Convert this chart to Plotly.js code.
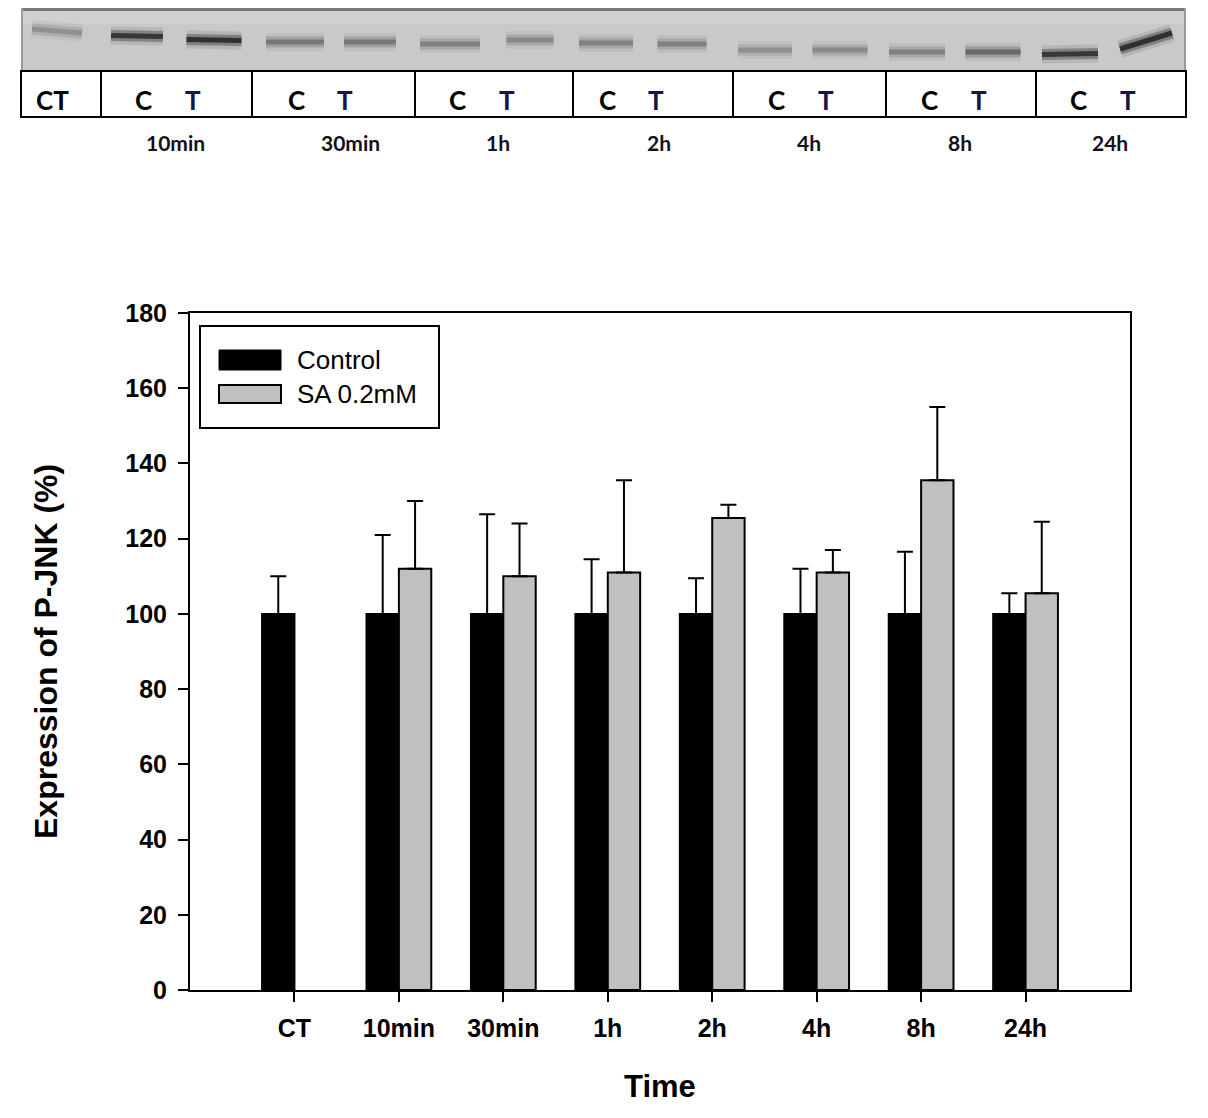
<!DOCTYPE html>
<html>
<head>
<meta charset="utf-8">
<script src="https://cdn.plot.ly/plotly-3.0.1.min.js"></script>
<style>html,body{margin:0;padding:0;background:#fff;}#chart{width:1208px;height:1118px;}</style>
</head>
<body>
<div id="chart"></div>
<script>
// ---------- Bar chart data ----------
const categories = ['CT', '10min', '30min', '1h', '2h', '4h', '8h', '24h'];
const controlVals = [100, 100, 100, 100, 100, 100, 100, 100];
const controlErr  = [10, 21, 26.5, 14.5, 9.5, 12, 16.5, 5.5];
const saVals      = [null, 112, 110, 111, 125.5, 111, 135.5, 105.5];
const saErr       = [null, 18, 14, 24.5, 3.5, 6, 19.5, 19];
const seriesNames = ['Control', 'SA 0.2mM'];
const yTicks = [0, 20, 40, 60, 80, 100, 120, 140, 160, 180];

// ---------- Western blot (top panel) data ----------
const laneGroups   = ['CT', '10min', '30min', '1h', '2h', '4h', '8h', '24h'];
const laneLetters  = ['CT', 'C', 'T', 'C', 'T', 'C', 'T', 'C', 'T', 'C', 'T', 'C', 'T', 'C', 'T'];
const bandCenterX  = [57, 137, 214, 295, 370, 450, 530, 606, 682, 765, 840, 917, 993, 1070, 1146];
const bandWidth    = [50, 52, 55, 58, 52, 60, 47, 54, 49, 54, 55, 56, 55, 56, 52];
const bandCenterY  = [31, 36, 40, 42, 42, 44, 40, 43, 44, 50, 50, 52, 52, 54, 41];
const bandTilt     = [4, 1, 1, 0, 0, 0, 0, 0, 0, 0, 0, 0, 0, -1, -16];
const bandTone     = [0.35, 0.9, 0.95, 0.5, 0.5, 0.45, 0.4, 0.45, 0.45, 0.35, 0.4, 0.45, 0.6, 0.9, 0.95];
const letterX      = [52, 143, 193, 296, 345, 457, 507, 607, 656, 776, 826, 929, 979, 1078, 1128];
const groupLabelX  = [175, 350, 498, 659, 809, 960, 1110];
const dividerX     = [101, 252, 415, 573, 733, 886, 1036];

const W = 1208, H = 1118;
const px = x => x / W;
const py = y => 1 - y / H;
const FONT = 'Arial, "Liberation Sans", sans-serif';
const BLOT_FONT = 'Lato, "Open Sans", sans-serif';

function toneColor(t, alpha) {
  const c = Math.round(201 * (1 - t) + 25 * t);
  return 'rgba(' + c + ',' + c + ',' + c + ',' + alpha + ')';
}

const traces = [];

// Bars
traces.push({
  type: 'bar', name: seriesNames[0], x: categories, y: controlVals,
  xaxis: 'x', yaxis: 'y',
  marker: {color: '#000000', line: {color: '#000000', width: 2}},
  error_y: {type: 'data', array: controlErr, arrayminus: controlErr.map(() => 0), symmetric: false,
            color: '#000000', thickness: 2, width: 8},
  hoverinfo: 'skip'
});
traces.push({
  type: 'bar', name: seriesNames[1], x: categories, y: saVals,
  xaxis: 'x', yaxis: 'y',
  marker: {color: '#c0c0c0', line: {color: '#000000', width: 2}},
  error_y: {type: 'data', array: saErr, arrayminus: saErr.map(() => 0), symmetric: false,
            color: '#000000', thickness: 2, width: 8},
  hoverinfo: 'skip'
});

// Blot bands (soft layered strokes)
const bandLayers = [{w: 18, k: 0.35, a: 0.35}, {w: 11, k: 0.7, a: 0.55}, {w: 5, k: 1.0, a: 0.85}];
for (let i = 0; i < bandCenterX.length; i++) {
  const xs = [bandCenterX[i] - bandWidth[i] / 2, bandCenterX[i] + bandWidth[i] / 2];
  const ys = [bandCenterY[i] - bandTilt[i] / 2, bandCenterY[i] + bandTilt[i] / 2];
  bandLayers.forEach(L => traces.push({type: 'scatter', mode: 'lines', x: xs, y: ys, xaxis: 'x2', yaxis: 'y2',
    line: {color: toneColor(bandTone[i] * L.k, L.a), width: L.w}, hoverinfo: 'skip'}));
}

const shapes = [];
const annotations = [];

// Blot membrane
shapes.push({type: 'rect', xref: 'x2', yref: 'y2', x0: 21, x1: 1186, y0: 8, y1: 71,
  fillcolor: '#c9c9c9', line: {width: 0}, layer: 'below'});
shapes.push({type: 'rect', xref: 'x2', yref: 'y2', x0: 23, x1: 1184, y0: 11, y1: 24,
  fillcolor: '#d0d0d0', line: {width: 0}, layer: 'below'});
shapes.push({type: 'rect', xref: 'x2', yref: 'y2', x0: 21, x1: 1186, y0: 8, y1: 11,
  fillcolor: '#7a7a7a', line: {width: 0}, layer: 'below'});
shapes.push({type: 'rect', xref: 'x2', yref: 'y2', x0: 21, x1: 23, y0: 8, y1: 71,
  fillcolor: '#9a9a9a', line: {width: 0}, layer: 'below'});
shapes.push({type: 'rect', xref: 'x2', yref: 'y2', x0: 1184, x1: 1186, y0: 8, y1: 71,
  fillcolor: '#9a9a9a', line: {width: 0}, layer: 'below'});
// Label table
shapes.push({type: 'rect', xref: 'x2', yref: 'y2', x0: 21, x1: 1186, y0: 71, y1: 117,
  fillcolor: '#ffffff', line: {color: '#000000', width: 2}});
dividerX.forEach(d => shapes.push({type: 'line', xref: 'x2', yref: 'y2', x0: d, x1: d, y0: 71, y1: 117,
  line: {color: '#000000', width: 2}}));
laneLetters.forEach((t, i) => annotations.push({xref: 'x2', yref: 'y2', x: letterX[i], y: 100,
  text: t, showarrow: false, xanchor: 'center', yanchor: 'middle',
  font: {family: BLOT_FONT, size: 26, weight: 700, color: t === 'T' ? '#15154a' : '#000000'}}));
laneGroups.slice(1).forEach((g, i) => annotations.push({xref: 'x2', yref: 'y2', x: groupLabelX[i], y: 142,
  text: g, showarrow: false, xanchor: 'center', yanchor: 'middle',
  font: {family: BLOT_FONT, size: 21, weight: 700, color: '#141018'}}));

// Legend (drawn as box)
shapes.push({type: 'rect', xref: 'paper', yref: 'paper', x0: px(200), x1: px(439), y0: py(428), y1: py(326),
  fillcolor: '#ffffff', line: {color: '#000000', width: 2}});
shapes.push({type: 'rect', xref: 'paper', yref: 'paper', x0: px(219), x1: px(281), y0: py(370), y1: py(350),
  fillcolor: '#000000', line: {color: '#000000', width: 1}});
shapes.push({type: 'rect', xref: 'paper', yref: 'paper', x0: px(219), x1: px(281), y0: py(403), y1: py(385),
  fillcolor: '#c0c0c0', line: {color: '#000000', width: 2}});
annotations.push({xref: 'paper', yref: 'paper', x: px(295), y: py(360), text: seriesNames[0], showarrow: false,
  xanchor: 'left', yanchor: 'middle', font: {family: FONT, size: 26, color: '#000'}});
annotations.push({xref: 'paper', yref: 'paper', x: px(295), y: py(394), text: seriesNames[1], showarrow: false,
  xanchor: 'left', yanchor: 'middle', font: {family: FONT, size: 26, color: '#000'}});

// Axis titles
annotations.push({xref: 'paper', yref: 'paper', x: px(660), y: py(1086), text: 'Time', showarrow: false,
  xanchor: 'center', yanchor: 'middle', font: {family: FONT, size: 31, weight: 700, color: '#000'}});
annotations.push({xref: 'paper', yref: 'paper', x: px(46), y: py(652), text: 'Expression of P-JNK (%)',
  textangle: -90, showarrow: false, xanchor: 'center', yanchor: 'middle',
  font: {family: FONT, size: 32, weight: 700, color: '#000'}});

const layout = {
  width: W, height: H,
  margin: {l: 0, r: 0, t: 0, b: 0, pad: 0},
  paper_bgcolor: '#ffffff', plot_bgcolor: '#ffffff',
  showlegend: false,
  barmode: 'group', bargap: 0.38, bargroupgap: 0,
  xaxis: {
    domain: [px(190), px(1130)], anchor: 'y', type: 'category',
    categoryorder: 'array', categoryarray: categories, range: [-1, 8],
    showline: true, linecolor: '#000', linewidth: 2, mirror: true,
    ticks: 'outside', ticklen: 10, tickwidth: 2, tickcolor: '#000',
    ticklabelstandoff: 5,
    tickfont: {family: FONT, size: 25, weight: 700, color: '#000'},
    showgrid: false, zeroline: false, fixedrange: true
  },
  yaxis: {
    domain: [py(990), py(313)], anchor: 'x', range: [0, 180],
    tickvals: yTicks, ticktext: yTicks.map(String),
    showline: true, linecolor: '#000', linewidth: 2, mirror: true,
    ticks: 'outside', ticklen: 10, tickwidth: 2, tickcolor: '#000',
    ticklabelstandoff: 6,
    tickfont: {family: FONT, size: 25, weight: 700, color: '#000'},
    showgrid: false, zeroline: false, fixedrange: true
  },
  xaxis2: {domain: [0, 1], anchor: 'y2', range: [0, W], visible: false, fixedrange: true},
  yaxis2: {domain: [py(160), 1], anchor: 'x2', range: [160, 0], visible: false, fixedrange: true},
  shapes: shapes,
  annotations: annotations
};

Plotly.newPlot('chart', traces, layout, {displayModeBar: false, staticPlot: true});
</script>
</body>
</html>
